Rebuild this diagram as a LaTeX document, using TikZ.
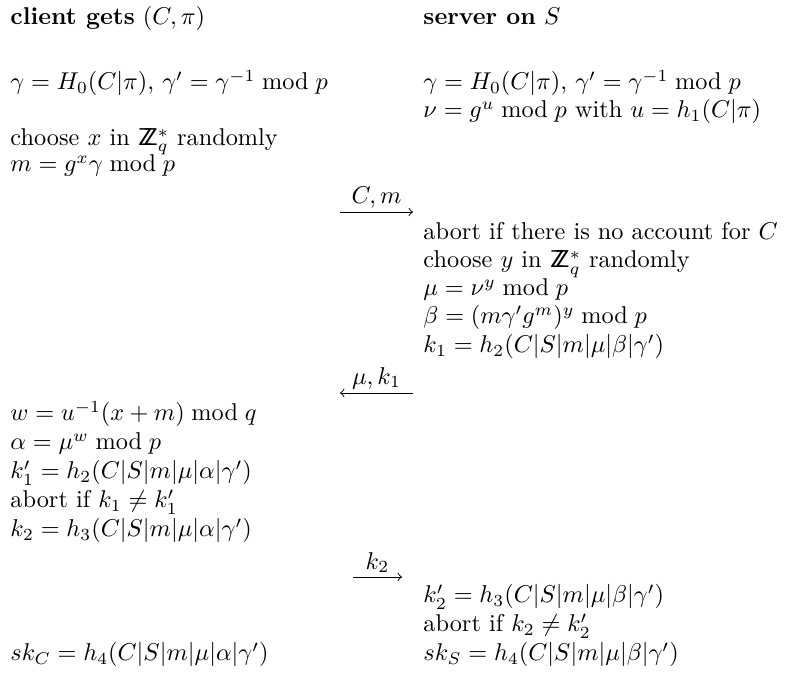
\documentclass[tikz,border=0pt]{standalone}
\usepackage{amsmath}
\newcommand{\ZZq}{\mathsf{Z}\mkern-7.2mu\mathsf{Z}}
\begin{document}
\begin{tikzpicture}[x=0.4115pt,y=-0.4115pt,
  txt/.style={anchor=base west,inner sep=0pt},
  msg/.style={-to,line width=0.4pt},
  lbl/.style={above,inner sep=1.5pt}]
\useasboundingbox (0,0) rectangle (785,675);
% client column
\node[txt] (c0) at (10,25) {\textbf{client gets} $(C,\pi)$};
\node[txt] (c1) at (10,90) {$\gamma = H_0(C|\pi)$, $\gamma' = \gamma^{-1} \bmod p$};
\node[txt] (c2) at (10,146) {choose $x$ in $\ZZq_q^*$ randomly};
\node[txt] (c3) at (10,172) {$m = g^x\gamma \bmod p$};
\node[txt] (c4) at (10,421) {$w = u^{-1}(x+m) \bmod q$};
\node[txt] (c5) at (10,450) {$\alpha = \mu^w \bmod p$};
\node[txt] (c6) at (10,479) {$k_1' = h_2(C|S|m|\mu|\alpha|\gamma')$};
\node[txt] (c7) at (10,508) {abort if $k_1 \neq k_1'$};
\node[txt] (c8) at (10,537) {$k_2 = h_3(C|S|m|\mu|\alpha|\gamma')$};
\node[txt] (c9) at (10,661) {$sk_C = h_4(C|S|m|\mu|\alpha|\gamma')$};
% server column
\node[txt] (s0) at (423,25) {\textbf{server on} $S$};
\node[txt] (s1) at (423,90) {$\gamma = H_0(C|\pi)$, $\gamma' = \gamma^{-1} \bmod p$};
\node[txt] (s2) at (423,118) {$\nu = g^u \bmod p$ with $u = h_1(C|\pi)$};
\node[txt] (s3) at (423,240) {abort if there is no account for $C$};
\node[txt] (s4) at (423,268) {choose $y$ in $\ZZq_q^*$ randomly};
\node[txt] (s5) at (423,296) {$\mu = \nu^y \bmod p$};
\node[txt] (s6) at (423,324) {$\beta = (m\gamma' g^m)^y \bmod p$};
\node[txt] (s7) at (423,353) {$k_1 = h_2(C|S|m|\mu|\beta|\gamma')$};
\node[txt] (s8) at (423,603) {$k_2' = h_3(C|S|m|\mu|\beta|\gamma')$};
\node[txt] (s9) at (423,632) {abort if $k_2 \neq k_2'$};
\node[txt] (s10) at (423,661) {$sk_S = h_4(C|S|m|\mu|\beta|\gamma')$};
% messages
\coordinate (m1a) at (340,212);
\coordinate (m1b) at (413,212);
\coordinate (m2a) at (413,393);
\coordinate (m2b) at (340,393);
\coordinate (m3a) at (353,577);
\coordinate (m3b) at (402,577);
\draw[msg] (m1a) -- node[lbl] (l1) {$C,m$} (m1b);
\draw[msg] (m2a) -- node[lbl] (l2) {$\mu,k_1$} (m2b);
\draw[msg] (m3a) -- node[lbl] (l3) {$k_2$} (m3b);
\end{tikzpicture}
\end{document}
